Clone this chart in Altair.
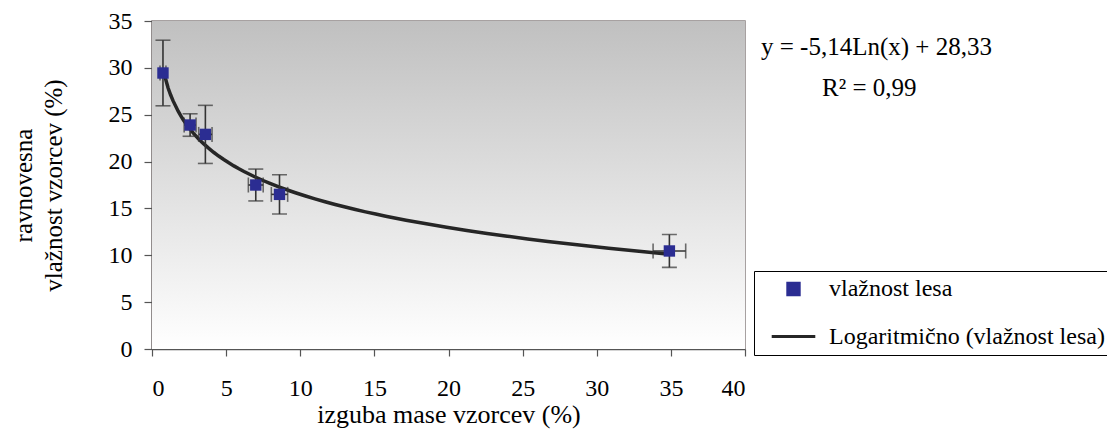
import altair as alt
import pandas as pd

# data
mass_loss = [0.74, 2.57, 3.6, 7.0, 8.6, 34.9]          # izguba mase vzorcev (%)
moisture = [29.45, 23.9, 22.9, 17.5, 16.5, 10.46]      # ravnovesna vlažnost (%)
moisture_err = [3.5, 1.2, 3.1, 1.7, 2.1, 1.75]
mass_err = [0.2, 0.4, 0.45, 0.5, 0.55, 1.1]

series_pts = "vlažnost lesa"
series_fit = "Logaritmično (vlažnost lesa)"
equation = "y = -5,14Ln(x) + 28,33"
r2_text = "R² = 0,99"
x_title = "izguba mase vzorcev (%)"
y_title = ["ravnovesna", "vlažnost vzorcev (%)"]
x_ticks = [0, 5, 10, 15, 20, 25, 30, 35, 40]
y_ticks = [0, 5, 10, 15, 20, 25, 30, 35]

df = pd.DataFrame({
    "x": mass_loss, "y": moisture,
    "ylo": [m - e for m, e in zip(moisture, moisture_err)],
    "yhi": [m + e for m, e in zip(moisture, moisture_err)],
    "xlo": [m - e for m, e in zip(mass_loss, mass_err)],
    "xhi": [m + e for m, e in zip(mass_loss, mass_err)],
    "series": [series_pts] * len(mass_loss),
})

W, H = 593, 328
FONT = "Liberation Serif"
BLUE = "#2b2d92"
DARK = "#262626"
ERR = "#333333"

xs = alt.Scale(domain=[0, 40], nice=False)
ys = alt.Scale(domain=[0, 35], nice=False)
x_axis = alt.Axis(values=x_ticks, grid=False, labelFont=FONT, labelFontSize=24,
                  titleFont=FONT, titleFontSize=26)
y_axis = alt.Axis(values=y_ticks, grid=False, labelFont=FONT, labelFontSize=24,
                  titleFont=FONT, titleFontSize=25)


def X(field):
    return alt.X(field, scale=xs, title=x_title, axis=x_axis)


def Y(field):
    return alt.Y(field, scale=ys, title=y_title, axis=y_axis)


base = alt.Chart(df)

bg = alt.Chart(pd.DataFrame({"a": [0]})).mark_rect(
    fill=alt.Gradient(gradient="linear", x1=0, y1=0, x2=0, y2=1,
                      stops=[alt.GradientStop(color="#c0c0c0", offset=0),
                             alt.GradientStop(color="#ffffff", offset=1)])
).encode(x=alt.value(0), x2=alt.value(W), y=alt.value(0), y2=alt.value(H))

fit = base.transform_regression("x", "y", method="log", extent=[0.74, 34.9]).mark_line(
    color=DARK, strokeWidth=3.5
).encode(x=X("x:Q"), y=Y("y:Q"))

err_style = dict(
    ticks={"size": 15, "thickness": 1.6, "color": ERR},
    rule={"strokeWidth": 1.6, "color": ERR},
)
yerr = base.mark_errorbar(**err_style).encode(x=X("x:Q"), y=Y("ylo:Q"), y2="yhi:Q")
xerr = base.mark_errorbar(**err_style).encode(y=Y("y:Q"), x=X("xlo:Q"), x2="xhi:Q")

dom = [series_pts, series_fit]
legend = alt.Legend(
    title=None, orient="none", legendX=602, legendY=250,
    strokeColor="#000000", padding=6, fillColor="#ffffff",
    labelFont=FONT, labelFontSize=24, labelColor="#000000",
    symbolStrokeWidth=3, rowPadding=12, labelOffset=12, symbolOffset=10,
    labelLimit=400,
)
pts = base.mark_point(filled=True, shape="square", opacity=1, strokeWidth=0).encode(
    x=X("x:Q"),
    y=Y("y:Q"),
    color=alt.Color("series:N", scale=alt.Scale(domain=dom, range=[BLUE, DARK]), legend=legend),
    stroke=alt.Stroke("series:N", scale=alt.Scale(domain=dom, range=[BLUE, DARK]), legend=legend),
    shape=alt.Shape("series:N", scale=alt.Scale(domain=dom, range=["square", "stroke"]), legend=legend),
    size=alt.Size("series:N", scale=alt.Scale(domain=dom, range=[130, 1900]), legend=legend),
)

eq1 = alt.Chart(pd.DataFrame({"t": [equation]})).mark_text(
    align="left", baseline="middle", font=FONT, fontSize=25, color="#000000"
).encode(text="t:N", x=alt.value(609), y=alt.value(26))
eq2 = alt.Chart(pd.DataFrame({"t": [r2_text]})).mark_text(
    align="left", baseline="middle", font=FONT, fontSize=25, color="#000000"
).encode(text="t:N", x=alt.value(670), y=alt.value(67))

chart = alt.layer(bg, fit, yerr, xerr, pts, eq1, eq2).properties(
    width=W, height=H,
    autosize=alt.AutoSizeParams(type="none"),
    padding={"left": 144, "top": 13, "right": 362, "bottom": 80},
    background="#ffffff",
).configure_view(
    stroke="#8a8282", strokeWidth=1.5
).configure_axis(
    domainColor="#555555", domainWidth=1.5, tickColor="#555555", tickWidth=1.2,
    labelFont=FONT, labelFontSize=24, labelColor="#000000",
    titleFont=FONT, titleFontWeight="normal", titleColor="#000000",
).configure_axisX(
    tickSize=7, labelPadding=20, titlePadding=1,
).configure_axisY(
    tickSize=8, labelPadding=12, titlePadding=42, titleLineHeight=30,
)

chart.save("out.html", embed_options={"renderer": "svg", "actions": False})
